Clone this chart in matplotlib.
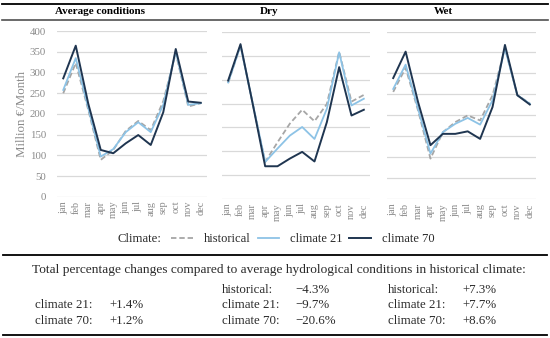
import matplotlib
matplotlib.use("Agg")
import matplotlib.pyplot as plt
from matplotlib.lines import Line2D

months = ["jan", "feb", "mar", "apr", "may", "jun", "jul", "aug", "sep", "oct", "nov", "dec"]
panel_titles = ["Average conditions", "Dry", "Wet"]
series_names = ["historical", "climate 21", "climate 70"]

avg_historical = [250, 323, 210, 89, 113, 159, 183, 161, 231, 347, 218, 226]
avg_climate21 = [258, 335, 214, 97, 115, 156, 180, 156, 222, 351, 222, 226]
avg_climate70 = [286, 365, 225, 113, 105, 129, 149, 125, 204, 357, 230, 227]

dry_historical = [243, 321, 199, 78, 119, 158, 187, 163, 199, 308, 204, 218]
dry_climate21 = [244, 321, 199, 78, 106, 133, 151, 126, 189, 307, 196, 210]
dry_climate70 = [248, 324, 198, 69, 69, 85, 99, 79, 161, 276, 175, 187]

wet_historical = [256, 313, 212, 97, 160, 184, 200, 188, 248, 360, 248, 229]
wet_climate21 = [263, 321, 216, 109, 160, 180, 194, 178, 236, 360, 248, 228]
wet_climate70 = [289, 352, 232, 129, 156, 156, 162, 144, 220, 368, 248, 226]

y_max = [400, 350, 400]
y_ticks_shown = [0, 50, 100, 150, 200, 250, 300, 350, 400]

pct_rows = ["historical:", "climate 21:", "climate 70:"]
pct_avg = [None, "+1.4%", "+1.2%"]
pct_dry = ["\u22124.3%", "\u22129.7%", "\u221220.6%"]
pct_wet = ["+7.3%", "+7.7%", "+8.6%"]

W, H = 550, 338
fig = plt.figure(figsize=(W / 100, H / 100), dpi=100)
SERIF = ["Liberation Serif", "DejaVu Serif"]
plt.rcParams["font.family"] = SERIF

col_hist = "#a6a6a6"
col_c21 = "#8dc3e6"
col_c70 = "#1f3550"
grid_col = "#d9d9d9"
tick_col = "#8a8a8a"
text_col = "#2a2a2a"

def ax_px(x0, x1, ytop, ybot):
    return fig.add_axes([x0 / W, 1 - ybot / H, (x1 - x0) / W, (ybot - ytop) / H])

boxes = [(57, 207, 31.2, 196.7), (222, 370, 31.7, 199.3), (387, 536, 31.5, 199.3)]
data = [
    (avg_historical, avg_climate21, avg_climate70),
    (dry_historical, dry_climate21, dry_climate70),
    (wet_historical, wet_climate21, wet_climate70),
]
handles = None
for i, (box, (h, c21, c70)) in enumerate(zip(boxes, data)):
    ax = ax_px(*box)
    x = list(range(len(months)))
    l1, = ax.plot(x, h, color=col_hist, lw=1.3, ls=(0, (3, 1.6)), zorder=3)
    l2, = ax.plot(x, c21, color=col_c21, lw=1.3, zorder=4)
    l3, = ax.plot(x, c70, color=col_c70, lw=1.4, zorder=5)
    handles = [l1, l2, l3]
    ax.set_xlim(-0.5, 11.5)
    ax.set_ylim(0, y_max[i])
    ax.set_yticks([t for t in y_ticks_shown if t <= y_max[i]])
    ax.grid(axis="y", color=grid_col, lw=0.9)
    ax.set_axisbelow(True)
    for s in ax.spines.values():
        s.set_visible(False)
    ax.set_xticks(x)
    ax.set_xticklabels(months, rotation=90, fontsize=7.4, color=tick_col)
    ax.tick_params(axis="both", length=0, pad=3)
    if i == 0:
        ax.tick_params(axis="y", labelsize=7.8, labelcolor=tick_col, pad=8)
        ax.set_ylabel("Million \u20ac/Month", fontsize=9.3, color=tick_col, labelpad=1)
    else:
        ax.set_yticklabels([])

# header lines and titles
fig.add_artist(Line2D([2 / W, 548 / W], [1 - 3.5 / H, 1 - 3.5 / H], color="black", lw=1.3))
fig.add_artist(Line2D([2 / W, 548 / W], [1 - 19.5 / H, 1 - 19.5 / H], color="#505050", lw=1.2))
for tx, title in zip([100, 269, 443], panel_titles):
    fig.text(tx / W, 1 - 11.8 / H, title, ha="center", va="center", fontsize=8.0, fontweight="bold")

# legend
fig.text(118 / W, 1 - 239 / H, "Climate:", ha="left", va="center", fontsize=9.2, color=text_col)
leg = fig.legend(handles, series_names, loc="center", bbox_to_anchor=(303 / W, 1 - 239 / H),
                 ncol=3, frameon=False, fontsize=9.0, handlelength=1.7, handletextpad=0.9,
                 columnspacing=0.55, borderaxespad=0, borderpad=0)
for t in leg.get_texts():
    t.set_color(text_col)

fig.add_artist(Line2D([3 / W, 547 / W], [1 - 255 / H, 1 - 255 / H], color="black", lw=1.3))
fig.text(279 / W, 1 - 270 / H, "Total percentage changes compared to average hydrological conditions in historical climate:",
         ha="center", va="center", fontsize=9.6, color=text_col)

row_y = [290, 305, 321]
cols = [(35, 109, pct_avg), (222, 295, pct_dry), (388, 462, pct_wet)]
for lx, vx, vals in cols:
    for r, (name, v) in enumerate(zip(pct_rows, vals)):
        if v is None:
            continue
        fig.text(lx / W, 1 - row_y[r] / H, name, ha="left", va="center", fontsize=9.3, color=text_col)
        fig.text(vx / W, 1 - row_y[r] / H, v, ha="left", va="center", fontsize=9.3, color=text_col)

fig.add_artist(Line2D([3 / W, 547 / W], [1 - 334.5 / H, 1 - 334.5 / H], color="black", lw=1.3))

fig.savefig("out.png", dpi=100)
